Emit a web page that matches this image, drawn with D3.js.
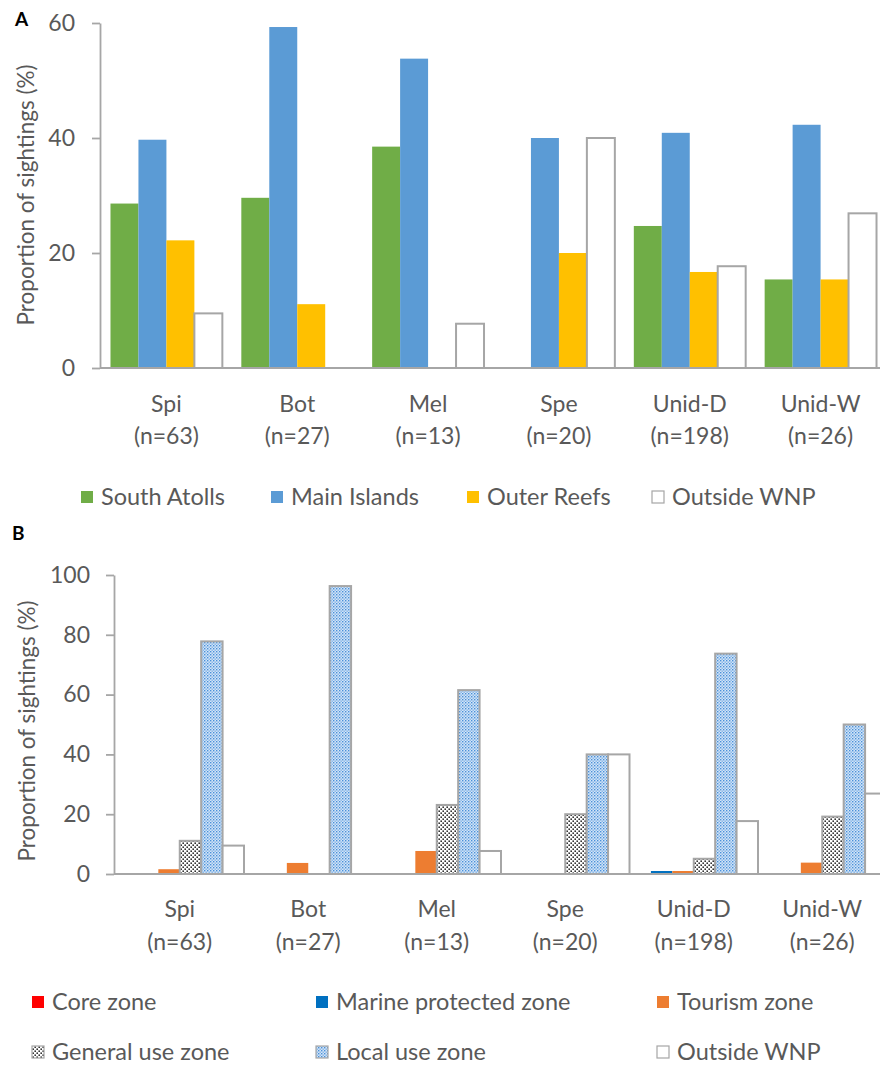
<!DOCTYPE html>
<html>
<head>
<meta charset="utf-8">
<script src="https://cdn.jsdelivr.net/npm/d3@7"></script>
<style>
  html, body { margin: 0; padding: 0; background: #fff; }
  svg { display: block; }
  text { font-family: Lato, "Open Sans", sans-serif; fill: #595959; }
</style>
</head>
<body>
<svg id="chart" width="880" height="1066"></svg>
<script>
// ---------- DATA ----------
const categories = ["Spi", "Bot", "Mel", "Spe", "Unid-D", "Unid-W"];
const sampleSizes = ["(n=63)", "(n=27)", "(n=13)", "(n=20)", "(n=198)", "(n=26)"];

// Panel A
const regionSeries = ["South Atolls", "Main Islands", "Outer Reefs", "Outside WNP"];
const southAtolls = [28.6, 29.6, 38.5, 0, 24.7, 15.4];
const mainIslands = [39.7, 59.3, 53.8, 40.0, 40.9, 42.3];
const outerReefs  = [22.2, 11.1, 0, 20.0, 16.7, 15.4];
const outsideA    = [9.5, 0, 7.7, 40.0, 17.7, 26.9];
const ticksA = [0, 20, 40, 60];

// Panel B
const zoneSeries = ["Core zone", "Marine protected zone", "Tourism zone",
                    "General use zone", "Local use zone", "Outside WNP"];
const coreZone        = [0, 0, 0, 0, 0, 0];
const marineProtected = [0, 0, 0, 0, 1.0, 0];
const tourismZone     = [1.6, 3.7, 7.7, 0, 1.0, 3.8];
const generalUse      = [11.1, 0, 23.1, 20.0, 5.1, 19.2];
const localUse        = [77.8, 96.3, 61.5, 40.0, 73.7, 50.0];
const outsideB        = [9.5, 0, 7.7, 40.0, 17.7, 26.9];
const ticksB = [0, 20, 40, 60, 80, 100];

// ---------- STYLE ----------
const axisGrey = "#a6a6a6";
const textGrey = "#595959";
const stylesA = [
  { fill: "#70ad47", stroke: "none" },
  { fill: "#5b9bd5", stroke: "none" },
  { fill: "#ffc000", stroke: "none" },
  { fill: "#ffffff", stroke: axisGrey }
];
const stylesB = [
  { fill: "#ff0000", stroke: "none" },
  { fill: "#0070c0", stroke: "none" },
  { fill: "#ed7d31", stroke: "none" },
  { fill: "url(#patGeneral)", stroke: axisGrey },
  { fill: "url(#patLocal)", stroke: axisGrey },
  { fill: "#ffffff", stroke: axisGrey }
];

const svg = d3.select("#chart");

// ---------- PATTERNS ----------
const defs = svg.append("defs");
const pg = defs.append("pattern").attr("id", "patGeneral")
  .attr("patternUnits", "userSpaceOnUse").attr("width", 4).attr("height", 4);
pg.append("rect").attr("width", 4).attr("height", 4).attr("fill", "#ffffff");
pg.append("rect").attr("x", 0.4).attr("y", 0.4).attr("width", 1.6).attr("height", 1.6).attr("fill", "#333333");
pg.append("rect").attr("x", 2.4).attr("y", 2.4).attr("width", 1.6).attr("height", 1.6).attr("fill", "#333333");

const pl = defs.append("pattern").attr("id", "patLocal")
  .attr("patternUnits", "userSpaceOnUse").attr("width", 3).attr("height", 3);
pl.append("rect").attr("width", 3).attr("height", 3).attr("fill", "#d3e5f7");
pl.append("rect").attr("x", 0).attr("y", 0).attr("width", 1.4).attr("height", 1.4).attr("fill", "#4a90d9");
pl.append("rect").attr("x", 1.5).attr("y", 1.5).attr("width", 1.4).attr("height", 1.4).attr("fill", "#7fb1e6");

// ---------- PANEL DRAWER ----------
function drawPanel(cfg) {
  const g = svg.append("g");
  const x0 = d3.scaleBand().domain(categories).range(cfg.xRange)
    .paddingInner(cfg.padInner).paddingOuter(cfg.padOuter);
  const x1 = d3.scaleBand().domain(cfg.series).range([0, x0.bandwidth()]);
  const y = d3.scaleLinear().domain(cfg.yDomain).range(cfg.yRange);

  // bars
  cfg.series.forEach((s, si) => {
    const vals = cfg.values[si];
    const st = cfg.styles[si];
    g.append("g").selectAll("rect")
      .data(categories.map((c, ci) => ({ c, v: vals[ci] })).filter(d => d.v > 0))
      .join("rect")
      .attr("x", d => x0(d.c) + x1(s))
      .attr("y", d => y(d.v))
      .attr("width", x1.bandwidth())
      .attr("height", d => y(0) - y(d.v))
      .attr("fill", st.fill)
      .attr("stroke", st.stroke)
      .attr("stroke-width", st.stroke === "none" ? 0 : 2);
  });

  // baseline
  g.append("line")
    .attr("x1", cfg.axisX).attr("x2", 880)
    .attr("y1", y(0)).attr("y2", y(0))
    .attr("stroke", axisGrey).attr("stroke-width", 1.8);

  // y axis
  const ax = g.append("g").attr("transform", `translate(${cfg.axisX},0)`)
    .call(d3.axisLeft(y).tickValues(cfg.ticks).tickSize(8).tickSizeOuter(0)
      .tickPadding(cfg.tickPad).tickFormat(d3.format("d")));
  ax.select(".domain").attr("stroke", axisGrey).attr("stroke-width", 1.8);
  ax.selectAll(".tick line").attr("stroke", axisGrey).attr("stroke-width", 1.8);
  ax.selectAll(".tick text").attr("font-family", "Lato, sans-serif")
    .attr("font-size", 23).attr("fill", textGrey);

  // y title
  g.append("text")
    .attr("transform", `translate(${cfg.titleX},${cfg.titleY}) rotate(-90)`)
    .attr("text-anchor", "middle").attr("dominant-baseline", "central")
    .attr("font-size", 22.5).text("Proportion of sightings (%)");

  // category labels: centred on the group band
  const xOf = c => x0(c) + x0.bandwidth() / 2;
  g.append("g").selectAll("text").data(categories).join("text")
    .attr("x", d => xOf(d)).attr("y", cfg.labY1)
    .attr("text-anchor", "middle").attr("font-size", 23).text(d => d);
  g.append("g").selectAll("text").data(sampleSizes).join("text")
    .attr("x", (d, i) => xOf(categories[i])).attr("y", cfg.labY2)
    .attr("text-anchor", "middle").attr("font-size", 23).text(d => d);

  // legend
  cfg.series.forEach((s, si) => {
    const pos = cfg.legendPos[si];
    const st = cfg.styles[si];
    g.append("rect")
      .attr("x", pos[0] - 20).attr("y", pos[1] - 14)
      .attr("width", 12).attr("height", 12)
      .attr("fill", st.fill)
      .attr("stroke", st.stroke === "none" ? "none" : axisGrey)
      .attr("stroke-width", 1.2);
    g.append("text").attr("x", pos[0]).attr("y", pos[1])
      .attr("font-size", 23.5).text(s);
  });

  // panel letter
  g.append("text").attr("x", cfg.letterX).attr("y", cfg.letterY)
    .attr("font-family", "Liberation Sans, Arial, sans-serif")
    .attr("font-weight", "bold").attr("font-size", 19).style("fill", "#000")
    .text(cfg.letter);
}

// Panel A
drawPanel({
  letter: "A", letterX: 15, letterY: 26,
  series: regionSeries, styles: stylesA,
  values: [southAtolls, mainIslands, outerReefs, outsideA],
  xRange: [101, 886], padInner: 0.145, padOuter: 0.0725,
  yDomain: [0, 60], yRange: [368, 23], ticks: ticksA,
  axisX: 100, tickPad: 17,
  titleX: 25, titleY: 195,
  labY1: 412, labY2: 444,
  legendPos: [[101, 505], [291, 505], [487, 505], [672, 505]]
});

// Panel B
drawPanel({
  letter: "B", letterX: 12, letterY: 540,
  series: zoneSeries, styles: stylesB,
  values: [coreZone, marineProtected, tourismZone, generalUse, localUse, outsideB],
  xRange: [115.5, 886.5], padInner: 0, padOuter: 0,
  yDomain: [0, 100], yRange: [874, 575], ticks: ticksB,
  axisX: 114, tickPad: 16,
  titleX: 26, titleY: 731,
  labY1: 917, labY2: 950,
  legendPos: [[52, 1010], [336, 1010], [677, 1010], [52, 1060], [336, 1060], [677, 1060]]
});
</script>
</body>
</html>
